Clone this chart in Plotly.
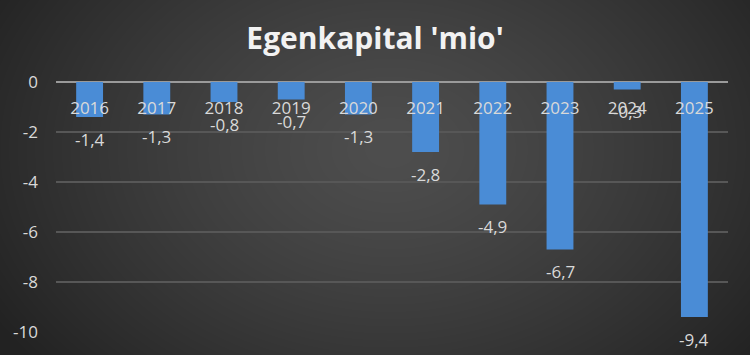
import base64, struct, zlib
import numpy as np
import plotly.graph_objects as go

years = ["2016", "2017", "2018", "2019", "2020", "2021", "2022", "2023", "2024", "2025"]
values = [-1.4, -1.3, -0.8, -0.7, -1.3, -2.8, -4.9, -6.7, -0.3, -9.4]
y_ticks = [0, -2, -4, -6, -8, -10]
title_text = "Egenkapital 'mio'"

W, H = 750, 355

# radial gradient background image (style only)
def make_bg(w, h):
    yy, xx = np.mgrid[0:h, 0:w].astype(float)
    cx, cy = w * 0.52, h * 0.42
    d = np.sqrt(((xx - cx) / (w * 0.62)) ** 2 + ((yy - cy) / (h * 0.95)) ** 2)
    d = np.clip(d, 0, 1)
    inner, outer = 78.0, 34.0
    v = inner + (outer - inner) * d ** 1.3
    v = v.astype(np.uint8)
    raw = b"".join(b"\x00" + bytes(np.repeat(row, 3)) for row in v)
    def chunk(t, data):
        c = struct.pack(">I", len(data)) + t + data
        return c + struct.pack(">I", zlib.crc32(t + data) & 0xffffffff)
    png = b"\x89PNG\r\n\x1a\n"
    png += chunk(b"IHDR", struct.pack(">IIBBBBB", w, h, 8, 2, 0, 0, 0))
    png += chunk(b"IDAT", zlib.compress(raw, 9))
    png += chunk(b"IEND", b"")
    return "data:image/png;base64," + base64.b64encode(png).decode()

bg = make_bg(W, H)

x0, x1 = 56, 728
ytop, ybot = 82, 332

fig = go.Figure()
fig.add_trace(go.Bar(
    x=years, y=values,
    marker=dict(color="#4a8cd6", line=dict(width=0)),
    width=0.4,
    hoverinfo="skip",
))

# value labels, placed through the data axes just below each bar end
# (x given as category index, since numeric-looking strings are read as indices)
for i, v in enumerate(values):
    fig.add_annotation(
        x=i, y=v, xref="x", yref="y",
        text=f"{v:.1f}".replace(".", ","),
        showarrow=False, yanchor="middle", yshift=-22,
        font=dict(family="Open Sans", size=17, color="#d9d9d9"),
    )

fig.update_layout(
    width=W, height=H,
    margin=dict(l=0, r=0, t=0, b=0, pad=0),
    paper_bgcolor="#333333",
    plot_bgcolor="rgba(0,0,0,0)",
    showlegend=False,
    images=[dict(source=bg, xref="paper", yref="paper", x=0, y=1,
                 sizex=1, sizey=1, sizing="stretch", layer="below",
                 xanchor="left", yanchor="top")],
    title=dict(text="<b>" + title_text + "</b>", x=0.5, xanchor="center",
               y=1 - 38 / H, yanchor="middle", automargin=False,
               font=dict(family="Open Sans", size=30, color="#f2f2f2")),
    xaxis=dict(
        type="category",
        categoryorder="array", categoryarray=years,
        range=[-0.5, len(years) - 0.5],
        domain=[x0 / W, x1 / W],
        anchor="free", position=1 - ytop / H, side="bottom",
        automargin=False,
        showgrid=False, zeroline=False,
        showline=False, ticks="",
        ticklabelstandoff=14,
        tickfont=dict(family="Open Sans", size=17, color="#d9d9d9"),
    ),
    yaxis=dict(
        domain=[1 - ybot / H, 1 - ytop / H],
        range=[-10, 0],
        automargin=False,
        tickvals=y_ticks,
        ticktext=[str(v) for v in y_ticks],
        showgrid=True, gridcolor="#575757", gridwidth=2,
        zeroline=True, zerolinecolor="#9a9a9a", zerolinewidth=2,
        ticks="", ticklabelstandoff=17,
        tickfont=dict(family="Open Sans", size=17, color="#d9d9d9"),
    ),
)

fig.write_html("out.html")
